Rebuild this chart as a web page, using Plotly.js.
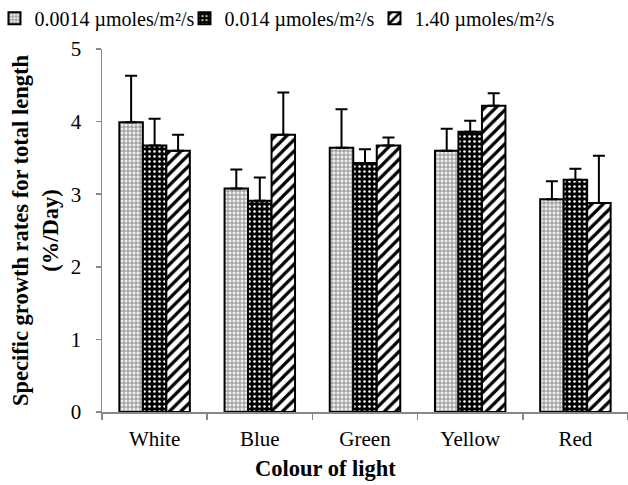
<!DOCTYPE html>
<html>
<head>
<meta charset="utf-8">
<script src="https://cdn.plot.ly/plotly-3.0.1.min.js"></script>
<style>html,body{margin:0;padding:0;background:#fff}#chart{width:628px;height:485px}</style>
</head>
<body>
<div id="chart"></div>
<script>
const categories = ["White", "Blue", "Green", "Yellow", "Red"];
const seriesNames = ["0.0014 µmoles/m²/s", "0.014 µmoles/m²/s", "1.40 µmoles/m²/s"];
const low = [3.99, 3.08, 3.64, 3.60, 2.93];
const lowErr = [0.64, 0.26, 0.53, 0.30, 0.25];
const mid = [3.67, 2.91, 3.43, 3.86, 3.20];
const midErr = [0.37, 0.32, 0.19, 0.15, 0.15];
const high = [3.60, 3.82, 3.67, 4.22, 2.88];
const highErr = [0.22, 0.58, 0.11, 0.17, 0.65];
const zeros = [0, 0, 0, 0, 0];

const patterns = [
  {shape: "+", fgcolor: "#666666", bgcolor: "#ececec", size: 4, solidity: 0.3},
  {shape: ".", fgcolor: "#ffffff", bgcolor: "#000000", size: 5, solidity: 0.2},
  {shape: "/", fgcolor: "#000000", bgcolor: "#ffffff", size: 8, solidity: 0.4}
];
const vals = [low, mid, high];
const errs = [lowErr, midErr, highErr];

const traces = vals.map((v, i) => ({
  type: "bar",
  name: seriesNames[i],
  x: categories,
  y: v,
  marker: {color: "#ffffff", pattern: patterns[i], line: {color: "#000000", width: 2}},
  error_y: {type: "data", symmetric: false, array: errs[i], arrayminus: zeros,
            color: "#000000", thickness: 2, width: 6, visible: true}
}));

const font = "Liberation Serif, Times New Roman, serif";
const layout = {
  width: 628, height: 485,
  margin: {l: 102, r: 0, t: 49, b: 73, autoexpand: false},
  paper_bgcolor: "#ffffff", plot_bgcolor: "#ffffff",
  barmode: "group", bargap: 0.33, bargroupgap: 0,
  font: {family: font, size: 20, color: "#000000"},
  showlegend: true,
  legend: {orientation: "h", x: -0.2044, xanchor: "left", y: 1.085, yanchor: "middle",
           entrywidth: 145, entrywidthmode: "pixels", itemwidth: 30,
           font: {family: font, size: 20, color: "#000000"}, bgcolor: "rgba(0,0,0,0)",
           traceorder: "normal"},
  xaxis: {type: "category", showline: true, linecolor: "#888888", linewidth: 1.5,
          ticks: "outside", tickson: "boundaries", ticklen: 6, tickcolor: "#888888", tickwidth: 1.5,
          ticklabelstandoff: 7,
          showgrid: false, zeroline: false, tickfont: {family: font, size: 21}},
  yaxis: {range: [0, 5], dtick: 1, showline: true, linecolor: "#888888", linewidth: 1.5,
          ticks: "outside", ticklen: 5, tickcolor: "#888888", tickwidth: 1.5,
          showgrid: false, zeroline: false, tickfont: {family: font, size: 21},
          ticklabelstandoff: 10,
          title: {text: "<b>Specific growth rates for total length<br>(%/Day)</b>",
                  font: {family: font, size: 22.5}, standoff: 6}},
  annotations: [{text: "<b>Colour of light</b>", xref: "paper", yref: "paper",
                 x: (325 - 102) / 526, y: -(468 - 412) / 363, xanchor: "center", yanchor: "middle",
                 showarrow: false, font: {family: font, size: 22.5, color: "#000000"}}]
};

Plotly.newPlot("chart", traces, layout, {displayModeBar: false, staticPlot: true});
</script>
</body>
</html>
